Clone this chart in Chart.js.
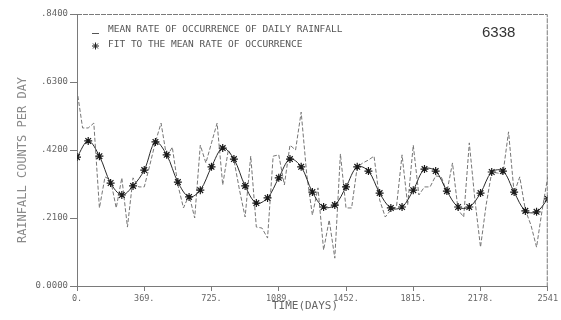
<!DOCTYPE html>
<html>
<head>
<meta charset="utf-8">
<title>Rainfall counts per day — station 6338</title>
<script src="https://cdn.jsdelivr.net/npm/chart.js@4/dist/chart.umd.min.js"></script>
<style>
  html, body { margin: 0; padding: 0; background: #ffffff; }
  canvas { display: block; }
</style>
</head>
<body>
<canvas id="chart" width="561" height="320"></canvas>
<script>
// Monthly mean rate of occurrence of daily rainfall (one value every 30.25 days)
const meanStepDays = 30.25;
const meanRate = [
  0.605, 0.488, 0.488, 0.503, 0.241, 0.337, 0.327, 0.241, 0.334, 0.182,
  0.334, 0.306, 0.306, 0.374, 0.445, 0.503, 0.398, 0.429, 0.312, 0.241,
  0.281, 0.210, 0.435, 0.380, 0.442, 0.503, 0.312, 0.420, 0.389, 0.296,
  0.213, 0.401, 0.182, 0.179, 0.148, 0.401, 0.405, 0.312, 0.435, 0.420,
  0.537, 0.343, 0.219, 0.303, 0.111, 0.204, 0.086, 0.408, 0.241, 0.241,
  0.367, 0.380, 0.389, 0.401, 0.266, 0.213, 0.235, 0.244, 0.405, 0.250,
  0.435, 0.281, 0.306, 0.306, 0.340, 0.337, 0.290, 0.380, 0.235, 0.213,
  0.442, 0.266, 0.120, 0.250, 0.352, 0.349, 0.346, 0.476, 0.287, 0.337,
  0.235, 0.188, 0.120, 0.235, 0.337
];

// Fitted seasonal curve (one value every 60.5 days)
const fitStepDays = 60.5;
const fitRate = [
  0.398, 0.448, 0.401, 0.318, 0.281, 0.309, 0.358, 0.445, 0.405, 0.321,
  0.275, 0.296, 0.368, 0.426, 0.392, 0.309, 0.256, 0.272, 0.334, 0.392,
  0.368, 0.290, 0.244, 0.250, 0.306, 0.368, 0.355, 0.287, 0.241, 0.244,
  0.296, 0.361, 0.355, 0.293, 0.244, 0.244, 0.287, 0.352, 0.355, 0.290,
  0.232, 0.229, 0.269
];

// Axis ticks
const xTickValues = [0, 363, 726, 1089, 1452, 1815, 2178, 2541];
const xTickLabels = ['0.', '369.', '725.', '1089.', '1452.', '1815.', '2178.', '2541'];
const yTickValues = [0, 0.21, 0.42, 0.63, 0.84];
const yTickLabels = ['0.0000', '.2100', '.4200', '.6300', '.8400'];

const meanPoints = meanRate.map((v, i) => ({ x: i * meanStepDays, y: v }));
const fitPoints = fitRate.map((v, i) => ({ x: i * fitStepDays, y: v }));

const MONO = '"DejaVu Sans Mono", "Liberation Mono", monospace';
const AXIS = '#7a7a7a';

// Titles, legend, station number and the upper/right frame
const annotations = {
  id: 'annotations',
  afterDraw(chart) {
    const { ctx, chartArea: a } = chart;
    ctx.save();

    ctx.strokeStyle = AXIS;
    ctx.lineWidth = 1;
    ctx.setLineDash([5, 1]);
    ctx.beginPath();
    ctx.moveTo(a.left, a.top + 0.5);
    ctx.lineTo(a.right - 0.5, a.top + 0.5);
    ctx.lineTo(a.right - 0.5, a.bottom);
    ctx.stroke();
    ctx.setLineDash([]);

    // y-axis title
    ctx.save();
    ctx.translate(23, 160);
    ctx.rotate(-Math.PI / 2);
    ctx.font = '12px ' + MONO;
    ctx.fillStyle = '#8a8a8a';
    ctx.textAlign = 'center';
    ctx.textBaseline = 'middle';
    ctx.fillText('RAINFALL COUNTS PER DAY', 0, 0);
    ctx.restore();

    // x-axis title
    ctx.font = '11px ' + MONO;
    ctx.fillStyle = '#666';
    ctx.textAlign = 'center';
    ctx.textBaseline = 'middle';
    ctx.fillText('TIME(DAYS)', 305, 306);

    // legend
    ctx.strokeStyle = '#555';
    ctx.lineWidth = 1;
    ctx.beginPath();
    ctx.moveTo(92, 33.5);
    ctx.lineTo(99, 33.5);
    ctx.stroke();
    ctx.strokeStyle = '#222';
    const sx = 95.5, sy = 46, r = 3.5;
    ctx.beginPath();
    for (let k = 0; k < 4; k++) {
      const ang = k * Math.PI / 4;
      ctx.moveTo(sx - r * Math.cos(ang), sy - r * Math.sin(ang));
      ctx.lineTo(sx + r * Math.cos(ang), sy + r * Math.sin(ang));
    }
    ctx.stroke();

    ctx.font = '9.5px ' + MONO;
    ctx.fillStyle = '#555';
    ctx.textAlign = 'left';
    ctx.fillText('MEAN RATE OF OCCURRENCE OF DAILY RAINFALL', 108, 30);
    ctx.fillText('FIT TO THE MEAN RATE OF OCCURRENCE', 108, 45);

    // station number
    ctx.font = '15px "Liberation Sans", Arial, sans-serif';
    ctx.fillStyle = '#333';
    ctx.fillText('6338', 482, 33);

    ctx.restore();
  }
};

new Chart(document.getElementById('chart'), {
  type: 'line',
  data: {
    datasets: [
      {
        label: 'MEAN RATE OF OCCURRENCE OF DAILY RAINFALL',
        data: meanPoints,
        borderColor: '#767676',
        borderWidth: 1,
        borderDash: [4, 2],
        pointRadius: 0,
        tension: 0,
        order: 2
      },
      {
        label: 'FIT TO THE MEAN RATE OF OCCURRENCE',
        data: fitPoints,
        borderColor: '#2a2a2a',
        borderWidth: 1,
        pointStyle: 'star',
        pointRadius: 4,
        pointBorderColor: '#1a1a1a',
        pointBackgroundColor: '#1a1a1a',
        pointBorderWidth: 1.2,
        tension: 0.35,
        order: 1
      }
    ]
  },
  options: {
    responsive: false,
    animation: false,
    devicePixelRatio: 1,
    layout: { padding: { top: 14, right: 13, left: 0, bottom: 0 } },
    plugins: {
      legend: { display: false },
      tooltip: { enabled: false }
    },
    scales: {
      x: {
        type: 'linear',
        min: 0,
        max: 2541,
        afterBuildTicks(scale) { scale.ticks = xTickValues.map(v => ({ value: v })); },
        afterFit(scale) { scale.height = 34; },
        ticks: {
          callback: (v, i) => xTickLabels[i],
          font: { family: MONO, size: 8.5 },
          color: '#666',
          maxRotation: 0,
          autoSkip: false,
          padding: 3
        },
        grid: { drawOnChartArea: false, drawTicks: true, tickLength: 5, color: AXIS },
        border: { display: true, color: AXIS }
      },
      y: {
        type: 'linear',
        min: 0,
        max: 0.84,
        afterBuildTicks(scale) { scale.ticks = yTickValues.map(v => ({ value: v })); },
        afterFit(scale) { scale.width = 77; },
        ticks: {
          callback: (v, i) => yTickLabels[i],
          font: { family: MONO, size: 9 },
          color: '#666',
          padding: 2
        },
        grid: { drawOnChartArea: false, drawTicks: true, tickLength: 7, color: AXIS },
        border: { display: true, color: AXIS }
      }
    }
  },
  plugins: [annotations]
});
</script>
</body>
</html>
